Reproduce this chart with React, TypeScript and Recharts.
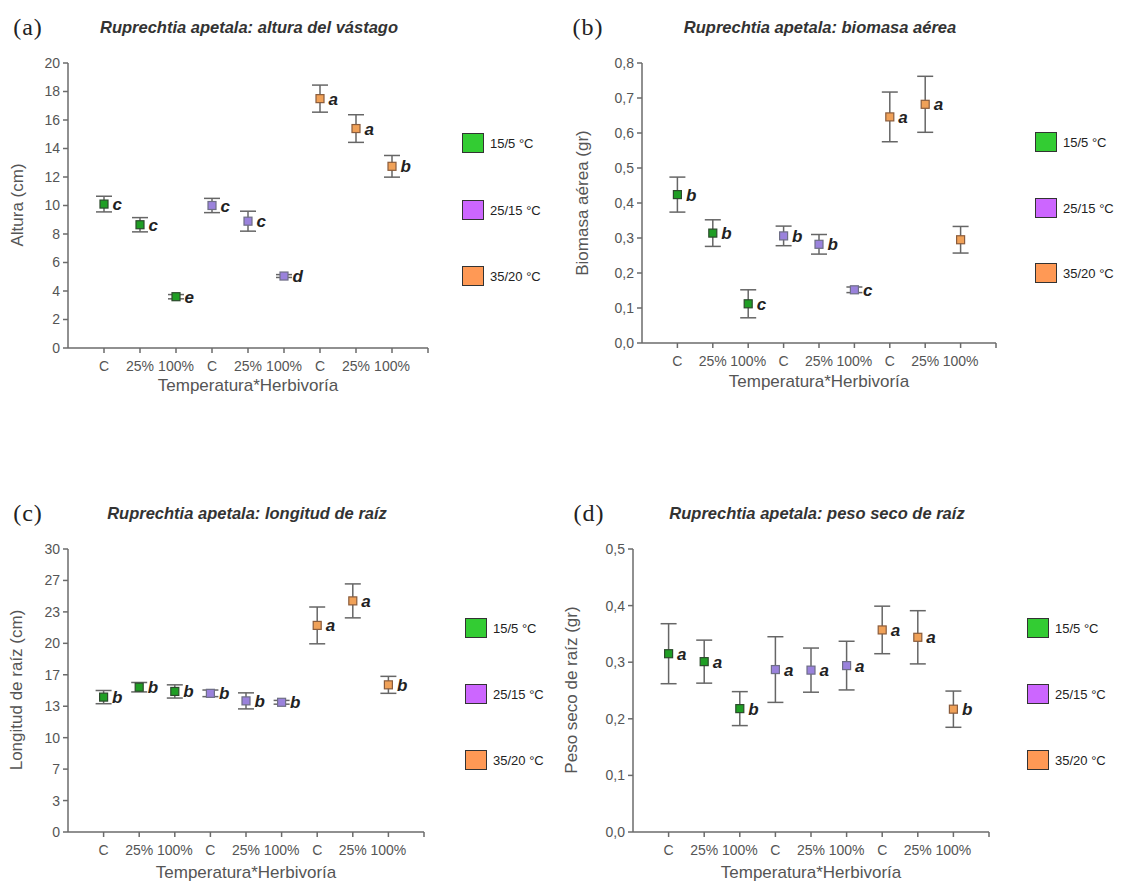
import React from 'react';
import { ScatterChart, Scatter, XAxis, YAxis, ErrorBar, LabelList } from 'recharts';

// Treatments along the x axis (Temperatura * Herbivoría)
const treatments = ['C', '25%', '100%', 'C', '25%', '100%', 'C', '25%', '100%'];
const groups = ['15/5 °C', '25/15 °C', '35/20 °C'];

// (a) altura del vástago (cm)
const alturaMeans = [10.1, 8.65, 3.6, 10.0, 8.9, 5.05, 17.5, 15.4, 12.75];
const alturaErr = [0.55, 0.5, 0.15, 0.5, 0.7, 0.1, 0.95, 0.97, 0.76];
const alturaSig = ['c', 'c', 'e', 'c', 'c', 'd', 'a', 'a', 'b'];
const alturaTicks = [0, 2, 4, 6, 8, 10, 12, 14, 16, 18, 20];
const alturaTickLabels = ['0', '2', '4', '6', '8', '10', '12', '14', '16', '18', '20'];

// (b) biomasa aérea (gr)
const biomasaMeans = [0.424, 0.314, 0.112, 0.306, 0.282, 0.152, 0.646, 0.682, 0.295];
const biomasaErr = [0.05, 0.038, 0.04, 0.028, 0.028, 0.008, 0.071, 0.08, 0.038];
const biomasaSig = ['b', 'b', 'c', 'b', 'b', 'c', 'a', 'a', ''];
const biomasaTicks = [0, 0.1, 0.2, 0.3, 0.4, 0.5, 0.6, 0.7, 0.8];
const biomasaTickLabels = ['0,0', '0,1', '0,2', '0,3', '0,4', '0,5', '0,6', '0,7', '0,8'];

// (c) longitud de raíz (cm)
const raizMeans = [14.3, 15.35, 14.9, 14.7, 13.9, 13.75, 21.9, 24.5, 15.6];
const raizErr = [0.7, 0.5, 0.7, 0.35, 0.85, 0.2, 1.95, 1.8, 0.9];
const raizSig = ['b', 'b', 'b', 'b', 'b', 'b', 'a', 'a', 'b'];
const raizTicks = [0, 3.333, 6.667, 10, 13.333, 16.667, 20, 23.333, 26.667, 30];
const raizTickLabels = ['0', '3', '7', '10', '13', '17', '20', '23', '27', '30'];

// (d) peso seco de raíz (gr)
const pesoMeans = [0.315, 0.301, 0.218, 0.287, 0.286, 0.294, 0.357, 0.344, 0.217];
const pesoErr = [0.053, 0.038, 0.03, 0.058, 0.039, 0.043, 0.042, 0.047, 0.032];
const pesoSig = ['a', 'a', 'b', 'a', 'a', 'a', 'a', 'a', 'b'];
const pesoTicks = [0, 0.1, 0.2, 0.3, 0.4, 0.5];
const pesoTickLabels = ['0,0', '0,1', '0,2', '0,3', '0,4', '0,5'];

const FONT = '"Liberation Sans", Arial, sans-serif';
const markerFill = ['#1f9e24', '#9a82dc', '#f0a158'];
const markerStroke = ['#2c4a2c', '#6e6e86', '#8a5c3c'];
const legendFill = ['#33cc33', '#cc66ff', '#ff9955'];

const panels = [
  {
    tag: '(a)', title: 'Ruprechtia apetala: altura del vástago', yLabel: 'Altura (cm)',
    means: alturaMeans, errs: alturaErr, sig: alturaSig, ticks: alturaTicks, tickLabels: alturaTickLabels,
    left: 0, top: 0, width: 440, height: 400,
    margin: { top: 63, right: 12, bottom: 22, left: 18 },
    tagPos: [28, 27], titlePos: [249, 27], xTitlePos: [248, 386], yTitlePos: [18, 205],
    legendX: 462, legendY: [143, 210, 276],
  },
  {
    tag: '(b)', title: 'Ruprechtia apetala: biomasa aérea', yLabel: 'Biomasa aérea (gr)',
    means: biomasaMeans, errs: biomasaErr, sig: biomasaSig, ticks: biomasaTicks, tickLabels: biomasaTickLabels,
    left: 560, top: 0, width: 440, height: 400,
    margin: { top: 63, right: 4, bottom: 27, left: 32 },
    tagPos: [588, 27], titlePos: [820, 27], xTitlePos: [819, 382], yTitlePos: [583, 203],
    legendX: 1035, legendY: [142, 208, 273],
  },
  {
    tag: '(c)', title: 'Ruprechtia apetala: longitud de raíz', yLabel: 'Longitud de raíz (cm)',
    means: raizMeans, errs: raizErr, sig: raizSig, ticks: raizTicks, tickLabels: raizTickLabels,
    left: 0, top: 490, width: 440, height: 395,
    margin: { top: 59, right: 16, bottom: 23, left: 18 },
    tagPos: [28, 513], titlePos: [247, 513], xTitlePos: [246, 873], yTitlePos: [17, 690],
    legendX: 465, legendY: [628, 694, 760],
  },
  {
    tag: '(d)', title: 'Ruprechtia apetala: peso seco de raíz', yLabel: 'Peso seco de raíz (gr)',
    means: pesoMeans, errs: pesoErr, sig: pesoSig, ticks: pesoTicks, tickLabels: pesoTickLabels,
    left: 560, top: 490, width: 440, height: 395,
    margin: { top: 59, right: 11, bottom: 23, left: 23 },
    tagPos: [589, 513], titlePos: [817, 513], xTitlePos: [811, 873], yTitlePos: [572, 690],
    legendX: 1027, legendY: [628, 694, 760],
  },
];

const groupData = (means: number[], errs: number[], sig: string[], g: number) =>
  [0, 1, 2].map((k) => {
    const i = g * 3 + k;
    return { x: i + 1, y: means[i], err: errs[i], sig: sig[i] };
  });

const makeShape = (g: number) => (props: any) => {
  const { cx, cy } = props;
  return (
    <rect x={cx - 4} y={cy - 4} width={8} height={8} fill={markerFill[g]} stroke={markerStroke[g]} strokeWidth={1.2} />
  );
};

const centered = (x: number, y: number): React.CSSProperties => ({
  position: 'absolute', left: x, top: y, transform: 'translate(-50%, -50%)', whiteSpace: 'nowrap',
});

const Panel = ({ p }: { p: any }) => {
  const axisStroke = '#6b6b6b';
  return (
    <>
      <div style={{ position: 'absolute', left: p.left, top: p.top }}>
        <ScatterChart width={p.width} height={p.height} margin={p.margin}>
          <XAxis
            type="number"
            dataKey="x"
            domain={[0, 10]}
            ticks={[1, 2, 3, 4, 5, 6, 7, 8, 9, 10]}
            interval={0}
            tickFormatter={(v: number) => treatments[v - 1] ?? ''}
            height={30}
            tickSize={5}
            tickMargin={8}
            stroke={axisStroke}
            strokeWidth={1.5}
            tick={{ fill: '#555', fontSize: 14, fontFamily: FONT }}
          />
          <YAxis
            type="number"
            dataKey="y"
            domain={[p.ticks[0], p.ticks[p.ticks.length - 1]]}
            ticks={p.ticks}
            tickFormatter={(_v: number, i: number) => p.tickLabels[i]}
            width={50}
            tickSize={5}
            tickMargin={3}
            stroke={axisStroke}
            strokeWidth={1.5}
            interval={0}
            tick={{ fill: '#555', fontSize: 14, fontFamily: FONT }}
          />
          {groups.map((name, g) => (
            <Scatter
              key={name}
              name={name}
              data={groupData(p.means, p.errs, p.sig, g)}
              shape={makeShape(g)}
              isAnimationActive={false}
            >
              <ErrorBar dataKey="err" direction="y" width={8} stroke="#666" strokeWidth={1.5} />
              <LabelList
                dataKey="sig"
                position="right"
                offset={4}
                style={{ fontStyle: 'italic', fontWeight: 'bold', fontSize: 17, fill: '#222', fontFamily: FONT }}
              />
            </Scatter>
          ))}
        </ScatterChart>
      </div>
      <div style={{ ...centered(p.tagPos[0], p.tagPos[1]), fontFamily: '"Liberation Serif", serif', fontSize: 24, letterSpacing: 1, color: '#222' }}>
        {p.tag}
      </div>
      <div style={{ ...centered(p.titlePos[0], p.titlePos[1]), fontFamily: FONT, fontSize: 16.5, fontWeight: 'bold', fontStyle: 'italic', color: '#333' }}>
        {p.title}
      </div>
      <div style={{ ...centered(p.xTitlePos[0], p.xTitlePos[1]), fontFamily: FONT, fontSize: 17, color: '#555' }}>
        Temperatura*Herbivoría
      </div>
      <div style={{ ...centered(p.yTitlePos[0], p.yTitlePos[1]), transform: 'translate(-50%, -50%) rotate(-90deg)', fontFamily: FONT, fontSize: 17, color: '#555' }}>
        {p.yLabel}
      </div>
      {groups.map((name, g) => (
        <div key={name} style={{ position: 'absolute', left: p.legendX, top: p.legendY[g] - 10, display: 'flex', alignItems: 'center' }}>
          <div style={{ width: 20, height: 18, background: legendFill[g], border: '1.5px solid #333' }} />
          <span style={{ marginLeft: 6, fontFamily: FONT, fontSize: 13, color: '#222' }}>{name}</span>
        </div>
      ))}
    </>
  );
};

export default function App() {
  return (
    <div style={{ position: 'absolute', left: 0, top: 0, width: 1121, height: 885, background: '#fff', overflow: 'hidden' }}>
      {panels.map((p) => (
        <Panel key={p.tag} p={p} />
      ))}
    </div>
  );
}
